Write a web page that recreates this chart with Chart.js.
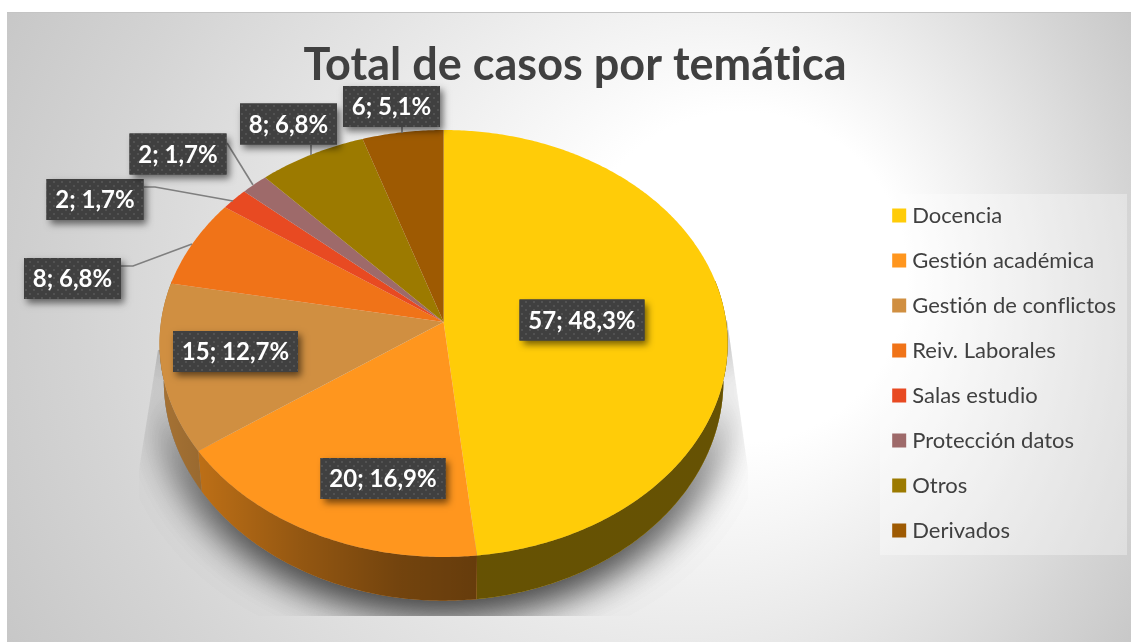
<!DOCTYPE html>
<html><head><meta charset="utf-8">
<style>html,body{margin:0;padding:0;background:#fff;overflow:hidden}canvas{display:block}</style>
<script src="https://cdn.jsdelivr.net/npm/chart.js@4/dist/chart.umd.min.js"></script>
</head><body>
<div style="width:1131px;height:642px"><canvas id="c" width="1131" height="642"></canvas></div>
<script>
const categories = ["Docencia","Gestión académica","Gestión de conflictos","Reiv. Laborales","Salas estudio","Protección datos","Otros","Derivados"];
const values = [57,20,15,8,2,2,8,6];
const colors = ["#FFCC08","#FF961E","#D08F41","#F07318","#E84A22","#9E6A6A","#9C7A00","#9E5A02"];
const titleText = "Total de casos por temática";
// label-box centres and leader lines (annotation placement only)
const labelCenters = [[582,320],[383,478.5],[235.5,351.5],[72.5,278.5],[95,199.5],[178,154],[288.5,124],[391.5,106.5]];
const leaders = [null,null,null,[[121,266],[133,266],[192,244]],[[144,187],[155,187],[233,201]],[[227,143],[253,185]],[[311,145],[311,155]],[[402,127],[402,133]]];

const RADIUS = 282.6, TILT = 0.7477, PERSP = -0.1007;
function project(el, t){
  const ux = Math.cos(t), uy = Math.sin(t), w = 1 + PERSP*uy;
  return [el.x + el.outerRadius*ux/w, el.y + el.outerRadius*TILT*uy/w];
}
function extrude(el, p){
  return [el.x + (p[0]-el.x)*0.985, p[1] + 27 + 0.03*p[1]];
}
function tracePts(ctx, pts){ pts.forEach((p,i)=> i?ctx.lineTo(p[0],p[1]):ctx.moveTo(p[0],p[1])); }
function arcPts(el, a, b){
  const n = Math.max(2, Math.ceil(Math.abs(b-a)/0.01)), r=[];
  for(let i=0;i<=n;i++) r.push(project(el, a+(b-a)*i/n));
  return r;
}
function dotPattern(ctx){
  const c=document.createElement('canvas'); c.width=8;c.height=8;
  const g=c.getContext('2d');
  g.fillStyle='#404040';g.fillRect(0,0,8,8);
  g.fillStyle='#525252';g.fillRect(1,1,2,2);g.fillRect(5,5,2,2);
  return ctx.createPattern(c,'repeat');
}
const decor = {
  id:'decor',
  beforeLayout(chart){ chart.ctx.letterSpacing='0.01px'; },
  afterLayout(chart){ chart.titleBlock.left+=5.5; chart.titleBlock.right+=5.5; },
  beforeDraw(chart){
    const ctx=chart.ctx;
    ctx.letterSpacing='0.01px';
    ctx.save();
    ctx.fillStyle='#fff';ctx.fillRect(0,0,1131,642);
    const g=ctx.createRadialGradient(800,260,0,569,327,660);
    g.addColorStop(0,'#ffffff');g.addColorStop(.25,'#ffffff');g.addColorStop(.8,'#d4d4d4');g.addColorStop(1,'#c6c6c6');
    ctx.fillStyle=g;ctx.fillRect(7,12,1124,630);
    ctx.fillStyle='#c4c4c4';ctx.fillRect(7,12,1124,1);
    ctx.fillStyle='rgba(255,255,255,.32)';ctx.fillRect(880,194,247,361);
    ctx.restore();
  },
  beforeDatasetDraw(chart){
    const ctx=chart.ctx, els=chart.getDatasetMeta(0).data, el0=els[0];
    // soft clipped shadow
    ctx.save();
    ctx.beginPath();tracePts(ctx,[[158,350],[139,470],[139,616],[750,616],[748,470],[727,320]]);ctx.closePath();ctx.clip();
    const low=arcPts(el0,-0.2,Math.PI+0.2);
    ctx.shadowColor='rgba(0,0,0,.6)';ctx.shadowBlur=42;ctx.shadowOffsetY=9;
    ctx.fillStyle='#888';
    for(let k=0;k<2;k++){ctx.beginPath();tracePts(ctx,low.concat(low.map(p=>extrude(el0,p)).reverse()));ctx.closePath();ctx.fill();}
    ctx.restore();
    // walls
    const shade=ctx.createLinearGradient(160,0,477,0);
    shade.addColorStop(0,'rgba(0,0,0,.2)');shade.addColorStop(.44,'rgba(0,0,0,.42)');shade.addColorStop(.75,'rgba(0,0,0,.55)');shade.addColorStop(1,'rgba(0,0,0,.6)');
    const lo=-0.2, hi=Math.PI+0.2;
    els.forEach((el,i)=>{
      const a=Math.max(el.startAngle,lo), b=Math.min(el.endAngle,hi);
      if(b<=a) return;
      const rim=arcPts(el,a,b), poly=rim.concat(rim.map(p=>extrude(el,p)).reverse());
      [colors[i],shade].forEach(f=>{ctx.fillStyle=f;ctx.beginPath();tracePts(ctx,poly);ctx.closePath();ctx.fill();});
    });
    // top faces
    els.forEach(el=>{
      ctx.fillStyle=el.options.backgroundColor;
      ctx.beginPath();tracePts(ctx,[[el.x,el.y]].concat(arcPts(el,el.startAngle,el.endAngle)));ctx.closePath();ctx.fill();
    });
    return false;
  },
  afterDatasetsDraw(chart){
    const ctx=chart.ctx, total=values.reduce((a,b)=>a+b,0);
    ctx.save();
    ctx.strokeStyle='#7f7f7f';ctx.lineWidth=1.6;
    leaders.forEach(l=>{ if(!l) return; ctx.beginPath();tracePts(ctx,l);ctx.stroke(); });
    const pat=dotPattern(ctx);
    ctx.font='bold 24px Lato';ctx.textAlign='center';ctx.textBaseline='middle';
    values.forEach((v,i)=>{
      const pct=(v/total*100).toFixed(1).replace('.',',');
      const t=v+'; '+pct+'%', [cx,cy]=labelCenters[i];
      const w=Math.round(ctx.measureText(t).width)+18, h=41;
      ctx.save();
      ctx.shadowColor='rgba(0,0,0,.55)';ctx.shadowBlur=7;ctx.shadowOffsetX=3;ctx.shadowOffsetY=4;
      ctx.fillStyle='#404040';ctx.fillRect(cx-w/2,cy-h/2,w,h);
      ctx.restore();
      ctx.fillStyle=pat;ctx.fillRect(cx-w/2,cy-h/2,w,h);
      ctx.fillStyle='#fff';ctx.fillText(t,cx,cy+1);
    });
    ctx.restore();
  }
};
new Chart(document.getElementById('c'),{
  type:'pie',
  data:{labels:categories,datasets:[{data:values,backgroundColor:colors,borderWidth:0,radius:RADIUS}]},
  options:{
    responsive:false,animation:false,
    layout:{padding:{left:13,right:5,top:12,bottom:77.5}},
    plugins:{
      tooltip:{enabled:false},
      title:{display:true,text:titleText,color:'#404040',font:{family:'Lato',weight:'bold',size:45,lineHeight:0.644},padding:{top:38.5,bottom:0}},
      legend:{position:'right',align:'end',labels:{
        color:'#404040',font:{family:'Lato',size:22},boxWidth:4,boxHeight:4,padding:23,
        generateLabels(chart){return chart.data.labels.map((t,i)=>({text:t,fillStyle:colors[i],strokeStyle:colors[i],lineWidth:10,fontColor:'#404040',index:i}));}
      }}
    }
  },
  plugins:[decor]
});
</script>
</body></html>
